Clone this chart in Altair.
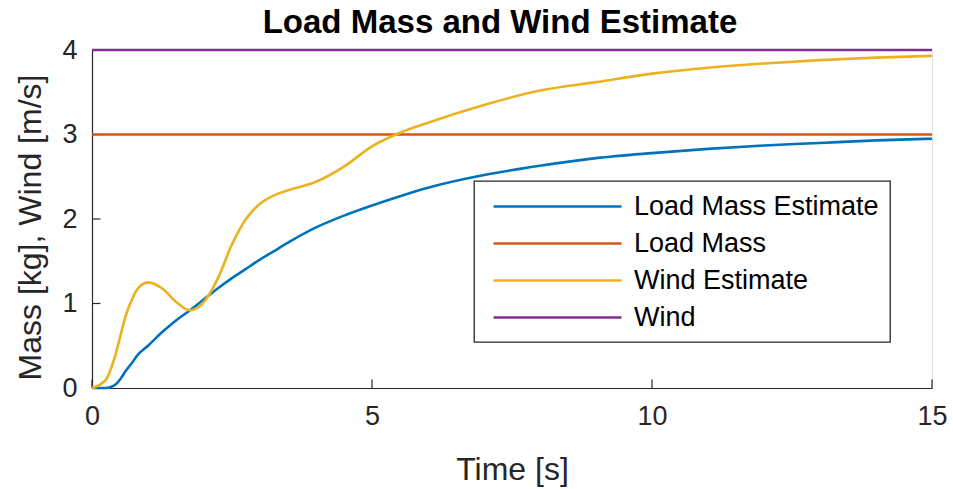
import altair as alt
import pandas as pd

# ---- data ----
t_est = [0, 0.25, 0.4, 0.5, 0.6, 0.75, 0.8, 1.0, 1.25, 1.5, 1.75, 2.0, 2.25, 2.5, 2.75, 3.0,
         3.25, 3.5, 4.0, 4.5, 5.0, 5.5, 6.0, 7.0, 8.0, 9.0, 10.0, 11.0, 12.0, 13.0, 14.0, 15.0]
mass_est = [0, 0.0, 0.03, 0.1, 0.2, 0.33, 0.38, 0.5, 0.66, 0.8, 0.92, 1.05, 1.18, 1.3, 1.41, 1.52,
            1.62, 1.72, 1.9, 2.04, 2.16, 2.27, 2.37, 2.52, 2.63, 2.72, 2.78, 2.83, 2.87, 2.9, 2.93, 2.95]
wind_est = [0, 0.1, 0.35, 0.6, 0.85, 1.1, 1.16, 1.25, 1.18, 1.02, 0.92, 1.02, 1.3, 1.7, 2.0, 2.18,
            2.28, 2.34, 2.44, 2.62, 2.86, 3.02, 3.14, 3.35, 3.52, 3.62, 3.72, 3.79, 3.84, 3.88, 3.91, 3.93]
t_const = [0, 15]
load_mass = 3
wind = 4

series_names = ["Load Mass Estimate", "Load Mass", "Wind Estimate", "Wind"]
series_colors = ["#0072BD", "#D95319", "#EDB120", "#7E2F8E"]
x_ticks = [0, 5, 10, 15]
y_ticks = [0, 1, 2, 3, 4]

rows = []
for t, v in zip(t_est, mass_est):
    rows.append({"t": t, "v": v, "series": "Load Mass Estimate", "o": 0})
for t in t_const:
    rows.append({"t": t, "v": load_mass, "series": "Load Mass", "o": 1})
for t, v in zip(t_est, wind_est):
    rows.append({"t": t, "v": v, "series": "Wind Estimate", "o": 2})
for t in t_const:
    rows.append({"t": t, "v": wind, "series": "Wind", "o": 3})
df = pd.DataFrame(rows)

FONT = "Liberation Sans"
AX = "#262626"

xs = alt.Scale(domain=[0, 15], nice=False)
ys = alt.Scale(domain=[0, 4], nice=False)

lines = alt.Chart(df).mark_line(strokeWidth=2.6, interpolate="monotone").encode(
    x=alt.X("t:Q", scale=xs, title="Time [s]",
            axis=alt.Axis(values=x_ticks, ticks=False, grid=False, domainColor=AX, domainWidth=1.2,
                          labelFontSize=27, labelColor=AX, labelPadding=15, labelFont=FONT,
                          labelFlush=False, format="d",
                          titleFontSize=32, titleFont=FONT, titleColor=AX, titleFontWeight="normal",
                          titleY=91, titleBaseline="alphabetic")),
    y=alt.Y("v:Q", scale=ys, title="Mass [kg], Wind [m/s]",
            axis=alt.Axis(values=y_ticks, ticks=False, grid=False, domainColor=AX, domainWidth=1.2,
                          labelFontSize=27, labelColor=AX, labelPadding=15, labelFont=FONT,
                          labelFlush=False, format="d",
                          titleFontSize=32, titleFont=FONT, titleColor=AX, titleFontWeight="normal",
                          titleX=-52, titleY=177, titleBaseline="alphabetic", titleAlign="center",
                          titleAngle=270)),
    color=alt.Color("series:N", sort=series_names,
                    scale=alt.Scale(domain=series_names, range=series_colors),
                    legend=alt.Legend(title=None, orient="none", legendX=382, legendY=131,
                                      symbolType="M-5,0H5", symbolSize=655, symbolStrokeWidth=2.6,
                                      symbolOffset=58,
                                      labelFontSize=27, labelFont=FONT, labelColor="#000000",
                                      labelLimit=500,
                                      strokeColor=AX, fillColor="white", padding=11,
                                      rowPadding=9, labelOffset=62)),
    order="o:Q",
    detail="series:N",
)

xt = pd.DataFrame({"t": x_ticks, "y0": [0] * 4, "y1": [0.1] * 4})
yt = pd.DataFrame({"v": y_ticks, "x0": [0] * 5, "x1": [0.15] * 5})

xtick = alt.Chart(xt).mark_rule(color=AX, strokeWidth=1.2).encode(
    x=alt.X("t:Q", scale=xs), y=alt.Y("y0:Q", scale=ys), y2="y1:Q")
ytick = alt.Chart(yt).mark_rule(color=AX, strokeWidth=1.2).encode(
    y=alt.Y("v:Q", scale=ys), x=alt.X("x0:Q", scale=xs), x2="x1:Q")

chart = alt.layer(xtick, ytick, lines).properties(
    width=840, height=338,
    title=alt.Title("Load Mass and Wind Estimate", fontSize=33, font=FONT, fontWeight="bold",
                    color="#000000", offset=0, dx=-12, dy=4),
    autosize=alt.AutoSizeParams(type="none"),
    padding={"left": 92, "top": 50, "right": 21, "bottom": 101},
).configure_view(stroke=None).configure(background="white").configure_legend(strokeWidth=1.3)

chart.save("out.html", embed_options={"renderer": "svg", "actions": False})
